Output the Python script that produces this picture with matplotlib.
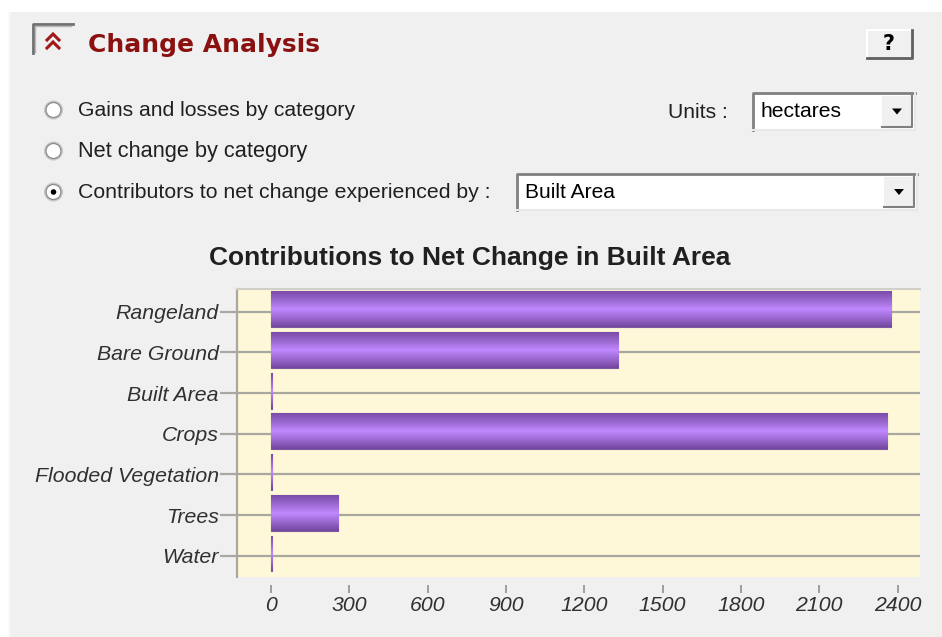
import matplotlib
matplotlib.use("Agg")
import matplotlib.pyplot as plt
import numpy as np
from matplotlib.patches import Rectangle, Circle, Polygon
from matplotlib.colors import LinearSegmentedColormap

# ---------------- data ----------------
categories = ["Rangeland", "Bare Ground", "Built Area", "Crops",
              "Flooded Vegetation", "Trees", "Water"]
values = [2375, 1330, 4, 2360, 4, 257, 4]
xticks = [0, 300, 600, 900, 1200, 1500, 1800, 2100, 2400]
xtick_labels = ["0", "300", "600", "900", "1200", "1500", "1800", "2100", "2400"]
title = "Contributions to Net Change in Built Area"
panel_title = "Change Analysis"
options = ["Gains and losses by category", "Net change by category",
           "Contributors to net change experienced by :"]
selected_option = 2
units_label = "Units :"
units_value = "hectares"
contributor_value = "Built Area"

ARIAL = "Liberation Sans"

W, H = 942, 637
fig = plt.figure(figsize=(W / 100, H / 100), dpi=100)
fig.patch.set_facecolor("white")
renderer = fig.canvas.get_renderer()

def fit(t, target_w):
    """scale a text's font size so that its rendered width matches target_w pixels"""
    for _ in range(2):
        w = t.get_window_extent(renderer=renderer).width
        t.set_fontsize(t.get_fontsize() * target_w / w)

# overlay axes in pixel coordinates for UI elements
ui = fig.add_axes([0, 0, 1, 1])
ui.set_xlim(0, W)
ui.set_ylim(H, 0)
ui.axis("off")
ui.set_zorder(0)

ui.add_patch(Rectangle((8, 12), W - 8, H - 12, facecolor="#F0F0F0", edgecolor="none"))
ui.plot([8.5, 8.5], [12, H], color="#FAFAFA", lw=1.5)

# collapse icon
ui.plot([33, 33, 73], [53, 24, 24], color="#707070", lw=2)
ui.plot([35, 35, 71], [52, 26, 26], color="#B8B8B8", lw=1)
for dy in (0, 8):
    ui.plot([47, 53, 59], [40 + dy, 34 + dy, 40 + dy], color="#A01818", lw=2.2,
            solid_joinstyle="miter")
t = ui.text(88, 45, panel_title, fontsize=18, fontweight="bold", color="#8B1010",
            family="DejaVu Sans", va="center", ha="left")
fit(t, 232)

# help button
ui.add_patch(Rectangle((867, 30), 45, 28, facecolor="#F0F0F0", edgecolor="none"))
ui.plot([867, 867, 912], [58, 30, 30], color="white", lw=1.5)
ui.plot([867, 912, 912], [58, 58, 30], color="#606060", lw=2)
ui.text(889, 44, "?", fontsize=15, fontweight="bold", color="black",
        family="DejaVu Sans", ha="center", va="center")

# radio buttons
radio_y = [110, 151, 192]
radio_w = [277, 229, 412]
for i, (lab, ry, tw) in enumerate(zip(options, radio_y, radio_w)):
    ui.add_patch(Circle((53.5, ry), 8.5, facecolor="white", edgecolor="#C8C8C8", lw=1.5))
    ui.add_patch(Circle((53.5, ry), 7.5, facecolor="none", edgecolor="#8A8A8A", lw=0.9))
    if i == selected_option:
        ui.add_patch(Circle((53.5, ry), 2.8, facecolor="black", edgecolor="none"))
    t = ui.text(78, ry, lab, fontsize=17, family=ARIAL, color="#202020",
                va="center", ha="left")
    fit(t, tw)

def combo(x0, y0, x1, y1, text):
    ui.add_patch(Rectangle((x0, y0), x1 - x0, y1 - y0, facecolor="white", edgecolor="none"))
    ui.plot([x0, x0, x1], [y1, y0, y0], color="#808080", lw=2)
    ui.plot([x0, x1, x1], [y1, y1, y0], color="#E8E8E8", lw=1.5)
    bx0 = x1 - 33
    ui.add_patch(Rectangle((bx0, y0 + 3), 30, y1 - y0 - 6, facecolor="#F0F0F0", edgecolor="none"))
    ui.plot([bx0, bx0 + 30, bx0 + 30], [y1 - 3, y1 - 3, y0 + 3], color="#808080", lw=1.5)
    cx, cy = bx0 + 15, (y0 + y1) / 2
    ui.add_patch(Polygon([[cx - 5, cy - 3], [cx + 5, cy - 3], [cx, cy + 3]],
                         closed=True, facecolor="black", edgecolor="none"))
    return ui.text(x0 + 8, (y0 + y1) / 2, text, fontsize=15, family=ARIAL, color="black",
                   va="center", ha="left")

t = ui.text(728, 112, units_label, fontsize=17, family=ARIAL, color="#202020",
            va="center", ha="right")
fit(t, 60)
fit(combo(753, 93, 915, 130, units_value), 81)
fit(combo(517, 174, 917, 210, contributor_value), 90)

# chart title
t = ui.text(470, 258, title, fontsize=15.5, fontweight="bold", family=ARIAL,
            color="#202020", ha="center", va="center")
fit(t, 521)

# ---------------- chart ----------------
L, R, T, B = 237, 920, 289, 577
ax = fig.add_axes([L / W, 1 - B / H, (R - L) / W, (B - T) / H])
ax.set_zorder(1)
ax.set_facecolor("#FFF8D8")
ax.spines["bottom"].set_position(("outward", 6))
ax.spines["bottom"].set_visible(False)
ax.spines["right"].set_visible(False)
ax.spines["top"].set_color("#D0D0C8")
ax.spines["top"].set_linewidth(1.5)
ax.spines["left"].set_color("#A8A8A0")
ax.spines["left"].set_linewidth(1.6)

ypos = np.arange(len(categories))
for y in ypos:
    ax.axhline(y, color="#A8A8A0", lw=1.6, zorder=1)

bars = ax.barh(ypos - 0.06, values, height=0.88, color="#A070D8",
               edgecolor="#7A58A0", lw=0.8, zorder=2)

cmap = LinearSegmentedColormap.from_list(
    "bar", ["#7A4CA8", "#9A68D0", "#C088FF", "#9A68D0", "#74469E"])
grad = np.linspace(0, 1, 256).reshape(-1, 1)
for b in bars:
    x0, y0 = b.get_x(), b.get_y()
    w, h = b.get_width(), b.get_height()
    im = ax.imshow(grad, cmap=cmap, aspect="auto", extent=(x0, x0 + w, y0 + h, y0),
                   zorder=2.5, interpolation="bilinear")
    im.set_clip_path(b)
ax.set_xlim(-130, 2486)
ax.set_ylim(len(categories) - 0.48, -0.56)

ax.set_yticks(ypos)
ax.set_yticklabels(categories, fontsize=15.3, style="italic", family=ARIAL, color="#303030")
ax.tick_params(axis="y", length=12, width=1.6, color="#A8A8A0", pad=1)
ax.set_xticks(xticks)
ax.set_xticklabels(xtick_labels, fontsize=15.3, style="italic", family=ARIAL, color="#303030")
ax.tick_params(axis="x", length=6, width=1.2, color="#909090", pad=2)

fig.savefig("out.png", dpi=100, facecolor=fig.get_facecolor())
